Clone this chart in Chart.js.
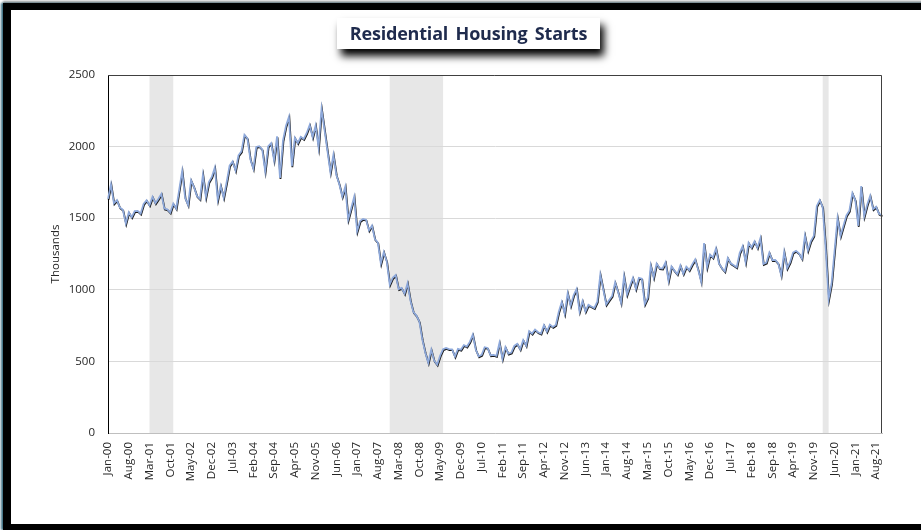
<!DOCTYPE html>
<html>
<head>
<meta charset="utf-8">
<script src="https://cdn.jsdelivr.net/npm/chart.js@4.4.0/dist/chart.umd.min.js"></script>
<style>
  html, body { margin: 0; padding: 0; background: #fff; overflow: hidden; }
  #wrap { position: relative; width: 921px; height: 530px; overflow: hidden; background: #fff; }
  #frame {
    position: absolute; left: 3px; top: 3px; width: 940px; height: 514px;
    border-top: 7px solid #000; border-left: 8px solid #000; border-bottom: 6px solid #000;
    box-shadow: -2px 0 2px #3f7184, 0 -2px 2px #999;
  }
  #title {
    position: absolute; left: 337px; top: 18px; width: 263px; height: 31px;
    background: #fff; box-shadow: 4px 7px 8px #000;
    font: bold 18px 'Open Sans', sans-serif; color: #1f2b4d;
    text-align: center; line-height: 31px; word-spacing: 3px; letter-spacing: -0.2px;
  }
  canvas { position: absolute; left: 0; top: 0; }
</style>
</head>
<body>
<div id="wrap">
  <div id="frame"></div>
  <canvas id="chart" width="921" height="530"></canvas>
  <div id="title">Residential Housing Starts</div>
</div>
<script>
// monthly starts, thousands (SAAR), Jan-00 .. Oct-21
const starts = [
  1636, 1737, 1604, 1626, 1575, 1559, 1463, 1541, 1507, 1549, 1551, 1532, // 2000
  1600, 1625, 1590, 1649, 1605, 1636, 1670, 1567, 1562, 1540, 1602, 1568, // 2001
  1698, 1829, 1642, 1592, 1764, 1717, 1655, 1633, 1804, 1648, 1753, 1788, // 2002
  1853, 1629, 1726, 1643, 1751, 1867, 1897, 1833, 1939, 1967, 2083, 2057, // 2003
  1911, 1846, 1998, 2003, 1981, 1828, 2002, 2024, 1905, 2072, 1782, 2042, // 2004
  2144, 2207, 1864, 2061, 2025, 2068, 2054, 2095, 2151, 2065, 2147, 1994, // 2005
  2265, 2119, 1969, 1821, 1942, 1802, 1737, 1650, 1720, 1491, 1570, 1649, // 2006
  1409, 1480, 1495, 1490, 1415, 1448, 1354, 1330, 1183, 1264, 1197, 1037, // 2007
  1084, 1103, 1005, 1013, 973, 1046, 923, 844, 820, 777, 652, 560,         // 2008
  490, 582, 505, 478, 540, 585, 594, 586, 585, 534, 588, 581,              // 2009
  614, 604, 636, 687, 583, 536, 546, 599, 594, 543, 545, 539,              // 2010
  630, 517, 600, 554, 561, 608, 623, 585, 650, 610, 711, 694,              // 2011
  723, 704, 695, 753, 708, 757, 740, 754, 847, 915, 833, 976,              // 2012
  888, 962, 1005, 849, 922, 849, 895, 883, 873, 918, 1105, 1003,           // 2013
  897, 928, 957, 1052, 985, 909, 1095, 966, 1028, 1084, 1007, 1083,        // 2014
  1077, 900, 944, 1170, 1086, 1183, 1151, 1149, 1192, 1064, 1164, 1134,    // 2015
  1109, 1170, 1112, 1162, 1137, 1178, 1212, 1141, 1058, 1326, 1158, 1247,  // 2016
  1225, 1289, 1186, 1152, 1128, 1222, 1185, 1172, 1158, 1256, 1304, 1193,  // 2017
  1329, 1296, 1339, 1294, 1361, 1180, 1190, 1260, 1208, 1209, 1185, 1101,  // 2018
  1264, 1151, 1193, 1260, 1272, 1254, 1218, 1378, 1274, 1340, 1377, 1586,  // 2019
  1627, 1576, 1293, 934, 1046, 1273, 1501, 1375, 1448, 1519, 1553, 1675,   // 2020
  1625, 1447, 1725, 1514, 1594, 1657, 1563, 1580, 1530, 1520               // 2021
];

const monthNames = ['Jan', 'Feb', 'Mar', 'Apr', 'May', 'Jun', 'Jul', 'Aug', 'Sep', 'Oct', 'Nov', 'Dec'];
const firstYear = 2000;
const labelEvery = 7;
const yTicks = [0, 500, 1000, 1500, 2000, 2500];

// shaded recessions
const recessions = [['Mar-01', 'Nov-01'], ['Dec-07', 'Jun-09'], ['Feb-20', 'Apr-20']];

const months = starts.map((v, i) => {
  const yr = String((firstYear + Math.floor(i / 12)) % 100).padStart(2, '0');
  return monthNames[i % 12] + '-' + yr;
});

Chart.defaults.font.family = "'Open Sans', sans-serif";
Chart.defaults.font.size = 11.5;
Chart.defaults.color = '#262626';

const shadePlugin = {
  id: 'shade',
  beforeDraw(chart) {
    const {ctx, chartArea, scales: {x}} = chart;
    ctx.save();
    ctx.fillStyle = '#e7e7e7';
    recessions.forEach(([a, b]) => {
      const x0 = x.getPixelForValue(months.indexOf(a));
      const x1 = x.getPixelForValue(months.indexOf(b));
      ctx.fillRect(x0, chartArea.top, x1 - x0, chartArea.bottom - chartArea.top);
    });
    ctx.restore();
  }
};

const shadowPlugin = {
  id: 'lineShadow',
  beforeDatasetDraw(chart) {
    const ctx = chart.ctx;
    ctx.save();
    ctx.shadowColor = 'rgba(0,0,0,0.9)';
    ctx.shadowOffsetX = 0.5;
    ctx.shadowOffsetY = 1;
    ctx.shadowBlur = 0.5;
  },
  afterDatasetDraw(chart) {
    chart.ctx.restore();
  }
};

const borderPlugin = {
  id: 'plotBorder',
  afterDraw(chart) {
    const {ctx, chartArea: a} = chart;
    ctx.save();
    ctx.strokeStyle = '#404040';
    ctx.lineWidth = 1;
    ctx.beginPath();
    ctx.moveTo(a.left, a.top + 0.5);
    ctx.lineTo(a.right - 0.5, a.top + 0.5);
    ctx.lineTo(a.right - 0.5, a.bottom);
    ctx.stroke();
    ctx.restore();
  }
};

new Chart(document.getElementById('chart'), {
  type: 'line',
  data: {
    labels: months,
    datasets: [{
      label: 'Housing Starts',
      data: starts,
      borderColor: '#8ea9db',
      borderWidth: 1.75,
      pointRadius: 0,
      tension: 0,
      fill: false
    }]
  },
  options: {
    responsive: false,
    animation: false,
    events: [],
    layout: { padding: { left: 49, top: 75, right: 39, bottom: 7 } },
    plugins: { legend: { display: false }, tooltip: { enabled: false } },
    scales: {
      x: {
        grid: { display: false, drawTicks: false },
        border: { color: '#bfbfbf', width: 1 },
        ticks: {
          autoSkip: false,
          maxRotation: 90,
          minRotation: 90,
          padding: 9,
          callback: (v, i) => (i % labelEvery === 0 ? months[i] : '')
        },
        afterFit: s => { s.height = 90; }
      },
      y: {
        min: 0,
        max: 2500,
        afterBuildTicks: s => { s.ticks = yTicks.map(v => ({value: v})); },
        grid: { color: '#d9d9d9', drawTicks: false },
        border: { color: '#000', width: 1 },
        ticks: { padding: 13, callback: v => String(v) },
        title: { display: true, text: 'Thousands', padding: 0 },
        afterFit: s => { s.width = 59; }
      }
    }
  },
  plugins: [shadePlugin, shadowPlugin, borderPlugin]
});
</script>
</body>
</html>
